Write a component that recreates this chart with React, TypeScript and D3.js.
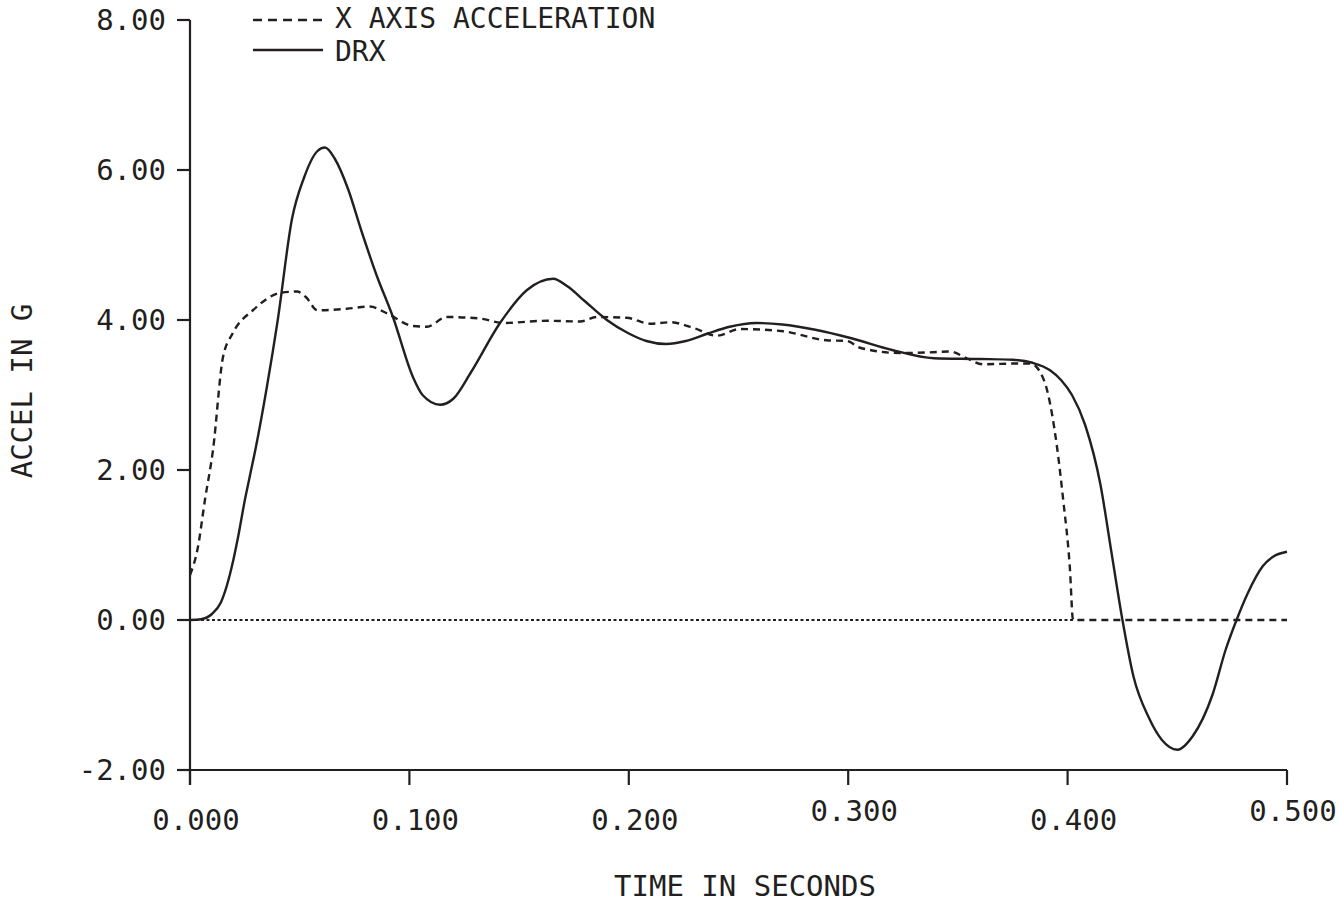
import * as d3 from "d3";

const WIDTH = 1340;
const HEIGHT = 906;
const MARGIN = { top: 20, right: 53, bottom: 136, left: 190 };

// X AXIS ACCELERATION (dashed)
const accelTime = [
  0.0, 0.0036, 0.0068, 0.0105, 0.015, 0.0196, 0.0287, 0.041, 0.0487, 0.053,
  0.058, 0.0715, 0.082, 0.0897, 0.1016, 0.108, 0.117, 0.132, 0.1427, 0.1627,
  0.1778, 0.1855, 0.199, 0.2097, 0.219, 0.229, 0.24, 0.2507, 0.2703, 0.29,
  0.2995, 0.3054, 0.3236, 0.3386, 0.3464, 0.354, 0.3615, 0.377, 0.383, 0.3874,
  0.3906, 0.3952, 0.398, 0.401, 0.4025, 0.45, 0.5,
];
const accelValue = [
  0.6, 0.97, 1.6, 2.27, 3.5, 3.83, 4.13, 4.36, 4.38, 4.3,
  4.13, 4.15, 4.18, 4.09, 3.92, 3.91, 4.04, 4.02, 3.96, 3.99,
  3.98, 4.04, 4.03, 3.95, 3.97, 3.9, 3.79, 3.88, 3.85, 3.73,
  3.72, 3.63, 3.56, 3.57, 3.58, 3.49, 3.41, 3.42, 3.42, 3.31,
  3.07, 2.3, 1.6, 0.71, 0.0, 0.0, 0.0,
];

// DRX (solid)
const drxTime = [
  0.0, 0.005, 0.01, 0.014, 0.0196, 0.022, 0.025, 0.0275, 0.03, 0.035, 0.04, 0.0465,
  0.052, 0.058, 0.0615, 0.066, 0.072, 0.078, 0.085, 0.0925, 0.1016, 0.106,
  0.114, 0.12, 0.128, 0.1413, 0.1536, 0.1655, 0.172, 0.18, 0.19, 0.2,
  0.208, 0.217, 0.226, 0.236, 0.246, 0.258, 0.27, 0.285, 0.301, 0.32,
  0.339, 0.36, 0.375, 0.384, 0.392, 0.397, 0.402, 0.408, 0.415, 0.42,
  0.425, 0.43, 0.437, 0.443, 0.45, 0.457, 0.466, 0.472, 0.477, 0.482,
  0.489, 0.494, 0.5,
];
const drxValue = [
  0.0, 0.01, 0.08, 0.23, 0.78, 1.12, 1.6, 1.95, 2.3, 3.1, 4.0, 5.35,
  5.9, 6.25, 6.3, 6.15, 5.75, 5.2, 4.6, 4.04, 3.24, 3.0,
  2.87, 2.95, 3.3, 3.96, 4.4, 4.55, 4.45, 4.25, 4.0, 3.82,
  3.72, 3.68, 3.72, 3.82, 3.91, 3.96, 3.94, 3.87, 3.76, 3.6,
  3.49, 3.48, 3.47, 3.43, 3.33, 3.2, 3.0, 2.6, 1.8, 0.9,
  0.0, -0.75, -1.3, -1.6, -1.73, -1.55, -1.0, -0.4, 0.0, 0.35,
  0.72, 0.85, 0.91,
];

const xTicks = [0, 0.1, 0.2, 0.3, 0.4, 0.5];
const yTicks = [-2, 0, 2, 4, 6, 8];
// some x labels sit a little higher on the original plot
const xLabelRaised = [false, false, false, true, false, true];

const INK = "#231f20";
const FONT = "'DejaVu Sans Mono', 'Liberation Mono', monospace";
const FS = 29;

export default function App() {
  const boundsWidth = WIDTH - MARGIN.left - MARGIN.right;
  const boundsHeight = HEIGHT - MARGIN.top - MARGIN.bottom;

  const xScale = d3.scaleLinear().domain([0, 0.5]).range([0, boundsWidth]);
  const yScale = d3.scaleLinear().domain([-2, 8]).range([boundsHeight, 0]);

  const line = d3
    .line<[number, number]>()
    .x((d) => xScale(d[0]))
    .y((d) => yScale(d[1]))
    .curve(d3.curveMonotoneX);

  const accelPath = line(accelTime.map((t, i) => [t, accelValue[i]]));
  const drxPath = line(drxTime.map((t, i) => [t, drxValue[i]]));

  return (
    <svg
      width={WIDTH}
      height={HEIGHT}
      style={{ position: "absolute", left: 0, top: 0, background: "#fff" }}
    >
      <g transform={`translate(${MARGIN.left},${MARGIN.top})`}>
        {/* zero reference, up to where the accel trace drops */}
        <line
          x1={xScale(0)}
          x2={xScale(0.4025)}
          y1={yScale(0)}
          y2={yScale(0)}
          stroke={INK}
          strokeWidth={2}
          strokeDasharray="3,2.5"
        />
        <path
          d={accelPath || ""}
          fill="none"
          stroke={INK}
          strokeWidth={2.4}
          strokeDasharray="7,5"
        />
        <path d={drxPath || ""} fill="none" stroke={INK} strokeWidth={2.4} />

        {/* Y axis */}
        <line x1={0} x2={0} y1={0} y2={boundsHeight + 15} stroke={INK} strokeWidth={2.2} />
        {yTicks.map((v) => (
          <g key={v} transform={`translate(0,${yScale(v)})`}>
            <line x1={-13} x2={0} stroke={INK} strokeWidth={2.2} />
            <text
              x={-24}
              dy="0.36em"
              textAnchor="end"
              fontFamily={FONT}
              fontSize={FS}
              fill={INK}
            >
              {v.toFixed(2)}
            </text>
          </g>
        ))}

        {/* X axis */}
        <line
          x1={0}
          x2={boundsWidth}
          y1={boundsHeight}
          y2={boundsHeight}
          stroke={INK}
          strokeWidth={2.2}
        />
        {xTicks.map((t, i) => (
          <g key={t} transform={`translate(${xScale(t)},${boundsHeight})`}>
            <line y1={0} y2={15} stroke={INK} strokeWidth={2.2} />
            <text
              x={6}
              y={xLabelRaised[i] ? 41 : 50}
              dy="0.36em"
              textAnchor="middle"
              fontFamily={FONT}
              fontSize={FS}
              fill={INK}
            >
              {t.toFixed(3)}
            </text>
          </g>
        ))}

        {/* axis titles */}
        <text
          x={745 - MARGIN.left}
          y={boundsHeight + 116}
          dy="0.36em"
          textAnchor="middle"
          fontFamily={FONT}
          fontSize={FS}
          fill={INK}
        >
          TIME IN SECONDS
        </text>
        <text
          transform={`translate(${22 - MARGIN.left},${391 - MARGIN.top}) rotate(-90)`}
          dy="0.36em"
          textAnchor="middle"
          fontFamily={FONT}
          fontSize={FS}
          fill={INK}
        >
          ACCEL IN G
        </text>

        {/* legend */}
        <g transform={`translate(${253 - MARGIN.left},0)`}>
          <line x1={0} x2={72} y1={0} y2={0} stroke={INK} strokeWidth={2.4} strokeDasharray="9,6" />
          <text x={82} y={-2} dy="0.36em" fontFamily={FONT} fontSize={28} fill={INK}>
            X AXIS ACCELERATION
          </text>
          <line x1={0} x2={70} y1={30} y2={30} stroke={INK} strokeWidth={2.4} />
          <text x={82} y={31} dy="0.36em" fontFamily={FONT} fontSize={28} fill={INK}>
            DRX
          </text>
        </g>
      </g>
    </svg>
  );
}
